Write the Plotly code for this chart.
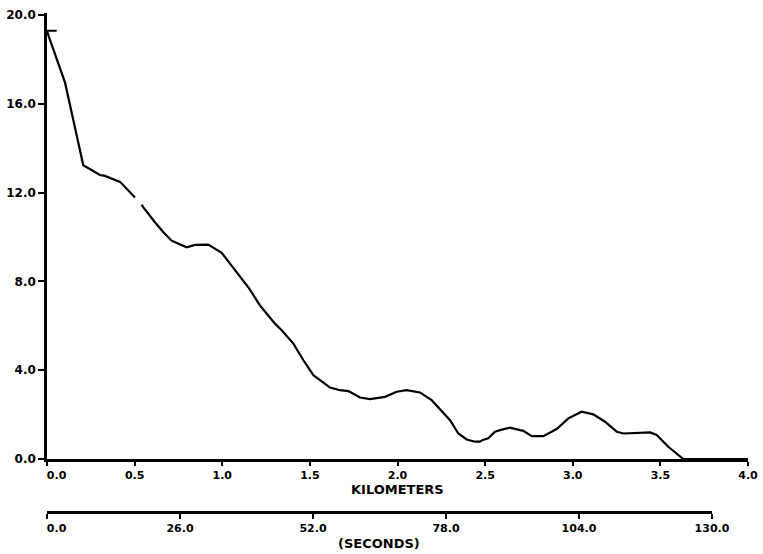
import plotly.graph_objects as go

# Profile: distance along track (km) vs. measured value
distance_km = [0.055, 0.0, 0.01, 0.103, 0.207, 0.302, 0.33, 0.417, 0.502, None,
               0.54, 0.55, 0.616, 0.664, 0.711, 0.797, 0.845, 0.92, 0.997, 1.073,
               1.149, 1.215, 1.301, 1.339, 1.406, 1.463, 1.52, 1.615, 1.672, 1.72,
               1.786, 1.843, 1.929, 1.995, 2.052, 2.128, 2.195, 2.30, 2.347, 2.395,
               2.442, 2.47, 2.487, 2.518, 2.556, 2.585, 2.642, 2.699, 2.718, 2.766,
               2.832, 2.908, 2.975, 3.051, 3.117, 3.184, 3.251, 3.289, 3.441, 3.479,
               3.545, 3.631, 4.0]
profile = [19.3, 19.3, 19.05, 16.96, 13.24, 12.8, 12.76, 12.49, 11.79, None,
           11.46, 11.34, 10.67, 10.22, 9.84, 9.54, 9.65, 9.66, 9.29, 8.49,
           7.74, 6.92, 6.10, 5.80, 5.20, 4.45, 3.78, 3.22, 3.10, 3.06,
           2.77, 2.70, 2.80, 3.03, 3.10, 3.00, 2.65, 1.75, 1.15, 0.88,
           0.78, 0.78, 0.86, 0.93, 1.23, 1.30, 1.41, 1.30, 1.27, 1.03,
           1.03, 1.35, 1.83, 2.13, 2.01, 1.68, 1.23, 1.15, 1.20, 1.08,
           0.55, 0.0, 0.0]

km_ticks = [0.0, 0.5, 1.0, 1.5, 2.0, 2.5, 3.0, 3.5, 4.0]
km_labels = ["\u00a0\u00a0\u00a0\u00a0\u00a00.0", "0.5", "1.0", "1.5", "2.0", "2.5", "3.0", "3.5", "4.0"]
sec_ticks = [0.0, 26.0, 52.0, 78.0, 104.0, 130.0]
sec_labels = ["\u00a0\u00a0\u00a0\u00a0\u00a00.0", "26.0", "52.0", "78.0", "104.0", "130.0"]
y_ticks = [0.0, 4.0, 8.0, 12.0, 16.0, 20.0]
y_labels = ["0.0", "4.0", "8.0", "12.0", "16.0", "20.0"]

W, H = 763, 554
ML, MR, MT, MB = 47, 15, 13, 42
plot_h = H - MT - MB
y_bottom = (512 - 459) / plot_h  # main plot sits above the seconds scale

tick_font = dict(family="DejaVu Sans", size=11, color="black", weight="bold")
ytick_font = dict(family="DejaVu Sans", size=12, color="black", weight="bold")
title_font = dict(family="DejaVu Sans", size=13, color="black", weight="bold")

fig = go.Figure()
fig.add_trace(go.Scatter(x=distance_km, y=profile, mode="lines",
                         line=dict(color="black", width=2.2), connectgaps=False,
                         hoverinfo="skip", showlegend=False))
# carrier trace so the seconds scale is drawn
fig.add_trace(go.Scatter(x=[sec_ticks[0], sec_ticks[-1]], y=[None, None], xaxis="x2",
                         yaxis="y", mode="lines", hoverinfo="skip", showlegend=False))

fig.update_layout(
    width=W, height=H,
    margin=dict(l=ML, r=MR, t=MT, b=MB),
    paper_bgcolor="white", plot_bgcolor="rgba(0,0,0,0)",
    xaxis=dict(range=[0, 4], tickvals=km_ticks, ticktext=km_labels,
               showgrid=False, zeroline=False, showline=True, linecolor="black",
               linewidth=2.5, ticks="outside", ticklen=4, tickwidth=2,
               tickcolor="black", tickfont=tick_font, anchor="y",
               automargin=False, domain=[0, 1]),
    xaxis2=dict(range=[0, 130], tickvals=sec_ticks, ticktext=sec_labels,
                showgrid=False, zeroline=False, showline=True, linecolor="black",
                linewidth=2.5, ticks="outside", ticklen=5, tickwidth=2,
                tickcolor="black", tickfont=tick_font, anchor="free", position=0,
                domain=[0, (712 - ML) / (W - ML - MR)], automargin=False),
    yaxis=dict(range=[0, 20.1], tickvals=y_ticks, ticktext=y_labels,
               showgrid=False, zeroline=False, showline=True, linecolor="black",
               linewidth=2.5, ticks="outside", ticklen=6, tickwidth=2,
               tickcolor="black", tickfont=ytick_font, domain=[y_bottom, 1],
               automargin=False),
    annotations=[
        dict(text="KILOMETERS", xref="paper", yref="paper", x=0.5,
             y=(512 - 489) / plot_h, showarrow=False, font=title_font,
             xanchor="center", yanchor="middle"),
        dict(text="(SECONDS)", xref="paper", yref="paper",
             x=((379 - ML) / (W - ML - MR)),
             y=(512 - 543) / plot_h, showarrow=False, font=title_font,
             xanchor="center", yanchor="middle"),
    ],
)

fig.write_html("out.html")
